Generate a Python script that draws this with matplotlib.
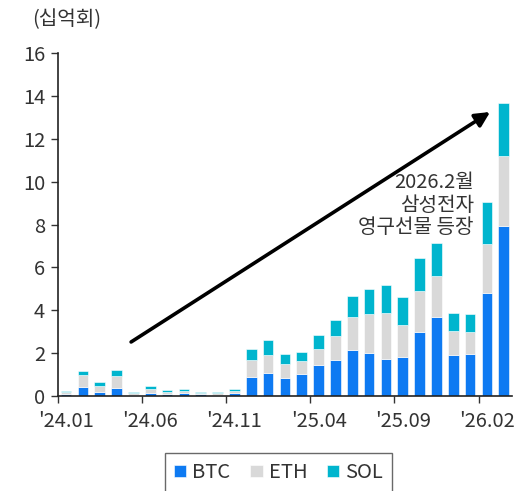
import matplotlib
matplotlib.use('Agg')
import matplotlib.pyplot as plt
import numpy as np

plt.rcParams['font.family'] = ['Noto Sans CJK KR', 'DejaVu Sans']
plt.rcParams['font.weight'] = 'light'

# monthly volume, 2024.01 - 2026.03 (billions)
months = ['24.01', '24.02', '24.03', '24.04', '24.05', '24.06', '24.07', '24.08',
          '24.09', '24.10', '24.11', '24.12', '25.01', '25.02', '25.03', '25.04',
          '25.05', '25.06', '25.07', '25.08', '25.09', '25.10', '25.11', '25.12',
          '26.01', '26.02', '26.03']
btc = [0.08, 0.41, 0.20, 0.39, 0.06, 0.14, 0.10, 0.12, 0.07, 0.06, 0.13, 0.87,
       1.06, 0.83, 1.01, 1.43, 1.66, 2.15, 1.99, 1.71, 1.80, 2.99, 3.68, 1.93,
       1.98, 4.80, 7.95]
eth = [0.10, 0.56, 0.27, 0.54, 0.06, 0.20, 0.10, 0.10, 0.06, 0.06, 0.09, 0.83,
       0.84, 0.68, 0.61, 0.75, 1.16, 1.54, 1.82, 2.16, 1.51, 1.89, 1.90, 1.12,
       1.02, 2.31, 3.26]
sol = [0.07, 0.18, 0.17, 0.27, 0.05, 0.11, 0.07, 0.10, 0.05, 0.05, 0.10, 0.51,
       0.73, 0.43, 0.45, 0.65, 0.72, 0.96, 1.18, 1.29, 1.31, 1.54, 1.55, 0.81,
       0.81, 1.95, 2.47]
series_names = ['BTC', 'ETH', 'SOL']
label_every = 5

colors = ['#0E7AF2', '#D9D9D9', '#00B5CE']
fs = 14.5

fig = plt.figure(figsize=(5.19, 4.91), dpi=100)
ax = fig.add_axes([0.1112, 0.1935, 0.8757, 0.6985])

x = np.arange(len(months))
bottom = np.zeros(len(months))
bars = []
for vals, name, c in zip([btc, eth, sol], series_names, colors):
    b = ax.bar(x, vals, width=0.63, bottom=bottom, color=c, label=name,
               edgecolor='white', linewidth=0.4)
    bottom += np.array(vals)
    bars.append(b)

ax.set_xlim(-0.5, len(months) - 0.5)
ax.set_ylim(0, 16)
ax.set_yticks(np.arange(0, 17, 2))
ax.tick_params(axis='y', labelsize=fs, length=5, width=1, color='#333333',
               labelcolor='#333333', pad=4)

# ticks between categories, labels centred under the bars
ax.set_xticks(np.arange(-0.5, len(months), label_every))
ax.set_xticklabels([])
ax.set_xticks(x[::label_every], minor=True)
ax.set_xticklabels(["'" + m for m in months[::label_every]], minor=True)
ax.tick_params(axis='x', which='major', length=5, width=1, color='#333333')
ax.tick_params(axis='x', which='minor', length=0, labelsize=fs,
               labelcolor='#333333', pad=11)

for s in ['top', 'right']:
    ax.spines[s].set_visible(False)
for s in ['left', 'bottom']:
    ax.spines[s].set_color('#222222')
    ax.spines[s].set_linewidth(1.2)

ax.annotate('', xy=(25.19, 13.25), xytext=(3.86, 2.52),
            arrowprops=dict(arrowstyle='-|>', lw=2.6, color='black',
                            mutation_scale=22, shrinkA=0, shrinkB=0))
ax.text(24.22, 8.91, '2026.2월\n삼성전자\n영구선물 등장', ha='right', va='center',
        fontsize=fs, color='#333333', linespacing=1.1)

fig.text(32 / 519, 1 - 20 / 491, '(십억회)', ha='left', va='center',
         fontsize=fs, color='#333333')

leg = fig.legend(handles=bars, labels=series_names, loc='upper left',
                 bbox_to_anchor=(165 / 519, 1 - 453 / 491), ncol=3,
                 fontsize=fs, frameon=True, fancybox=False,
                 handlelength=0.6, handleheight=0.6, handletextpad=0.3,
                 columnspacing=1.0, borderpad=0.45, borderaxespad=0)
leg.get_frame().set_edgecolor('#444444')
leg.get_frame().set_linewidth(1.0)
for t in leg.get_texts():
    t.set_color('#333333')

fig.savefig('out.png', dpi=100)
